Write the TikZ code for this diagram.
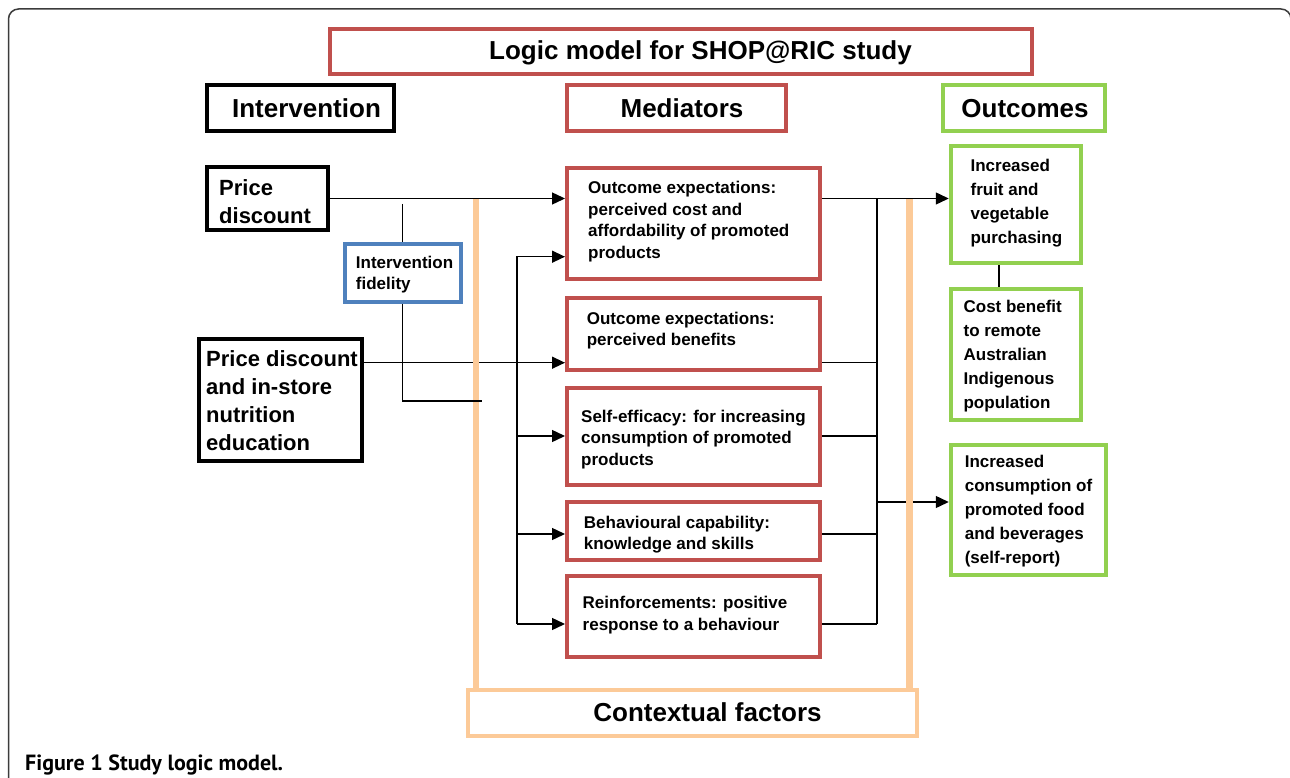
\documentclass[tikz,border=0pt]{standalone}
\usepackage{fontspec}
\setmainfont{Liberation Sans}
\newfontfamily\capfont{PT Sans}
\usetikzlibrary{arrows.meta}
\definecolor{boxred}{RGB}{192,80,77}
\definecolor{boxgreen}{RGB}{146,208,80}
\definecolor{boxblue}{RGB}{79,129,189}
\definecolor{ctxorange}{RGB}{252,202,152}
\definecolor{framegray}{RGB}{60,60,60}
\begin{document}
\begin{tikzpicture}[x=1pt,y=-1pt, font=\bfseries,
  box/.style={draw, rectangle, line width=4pt, inner sep=0pt},
  blackbox/.style={box, draw=black},
  redbox/.style={box, draw=boxred},
  greenbox/.style={box, draw=boxgreen, line width=4.5pt},
  bluebox/.style={box, draw=boxblue},
  ctxbox/.style={box, draw=ctxorange},
  head/.style={font=\fontsize{26}{30}\selectfont\bfseries, inner sep=0pt, anchor=base},
  medtxt/.style={font=\fontsize{17}{21.7}\selectfont\bfseries, align=left, anchor=west, inner sep=0pt},
  outtxt/.style={font=\fontsize{17}{24}\selectfont\bfseries, align=left, anchor=west, inner sep=0pt},
  inttxt/.style={font=\fontsize{22}{28}\selectfont\bfseries, align=left, anchor=west, inner sep=0pt},
  fidtxt/.style={font=\fontsize{17}{20.7}\selectfont\bfseries, align=left, anchor=west, inner sep=0pt},
  conn/.style={draw=black, line width=1.4pt},
  arr/.style={conn, -{Triangle[length=13pt,width=12pt]}},
  bar/.style={draw=ctxorange, line width=6.5pt},
  frame/.style={draw=framegray, line width=1.5pt, rounded corners=10pt},
]
\fill[white] (0,0) rectangle (1290,778);
\useasboundingbox (0,0) rectangle (1290,778);

\draw[frame] (8.5,800) -- (8.5,9) -- (1291,9) -- (1291,800);

% title and headings
\node[redbox, minimum width=702pt, minimum height=45pt] (title) at (681,51.5) {};
\node[head] (titletxt) at (700.5,59.3) {Logic model for SHOP@RIC study};
\node[blackbox, minimum width=187pt, minimum height=46pt] (hint) at (300.5,108) {};
\node[head] (hinttxt) at (306.5,117.3) {Intervention};
\node[redbox, minimum width=219pt, minimum height=46pt] (hmed) at (676.5,108) {};
\node[head] (hmedtxt) at (682,117.3) {Mediators};
\node[greenbox, minimum width=162pt, minimum height=46pt] (hout) at (1024,108) {};
\node[head] (houttxt) at (1025,117.3) {Outcomes};

% interventions
\node[blackbox, minimum width=121pt, minimum height=63pt] (pd) at (267.5,198.5) {};
\node[inttxt] (pdtxt) at (219,202) {Price\\discount};
\node[blackbox, minimum width=162.6pt, minimum height=122pt] (pde) at (280.3,400) {};
\node[inttxt] (pdetxt) at (206,401) {Price discount\\and in-store\\nutrition\\education};
\node[bluebox, minimum width=116.5pt, minimum height=58pt] (fid) at (402.75,273) {};
\node[fidtxt] (fidtxt) at (355.7,274.3) {Intervention\\fidelity};

% mediators
\node[redbox, minimum width=253pt, minimum height=111pt] (m1) at (693.5,223.5) {};
\node[medtxt] (m1txt) at (588,221.5) {Outcome expectations:\\perceived cost and\\affordability of promoted\\products};
\node[redbox, minimum width=253pt, minimum height=72pt] (m2) at (693.5,334) {};
\node[medtxt] (m2txt) at (586.6,330.5) {Outcome expectations:\\perceived benefits};
\node[redbox, minimum width=253pt, minimum height=97pt] (m3) at (693.5,436.5) {};
\node[medtxt] (m3txt) at (581,439.5) {Self-efficacy: for increasing\\consumption of promoted\\products};
\node[redbox, minimum width=253pt, minimum height=58pt] (m4) at (693.5,531) {};
\node[medtxt] (m4txt) at (583.7,534.5) {Behavioural capability:\\knowledge and skills};
\node[redbox, minimum width=253pt, minimum height=81pt] (m5) at (693.5,616.5) {};
\node[medtxt] (m5txt) at (582.5,615.3) {Reinforcements: positive\\response to a behaviour};

% outcomes
\node[greenbox, minimum width=130pt, minimum height=117pt] (o1) at (1016,204.5) {};
\node[outtxt] (o1txt) at (970.4,203.2) {Increased\\fruit and\\vegetable\\purchasing};
\node[greenbox, minimum width=130pt, minimum height=131pt] (o2) at (1016,354.5) {};
\node[outtxt] (o2txt) at (963.4,355.7) {Cost benefit\\to remote\\Australian\\Indigenous\\population};
\node[greenbox, minimum width=155pt, minimum height=130pt] (o3) at (1028.5,510) {};
\node[outtxt] (o3txt) at (964.6,511.5) {Increased\\consumption of\\promoted food\\and beverages\\(self-report)};

% contextual factors
\node[ctxbox, minimum width=449pt, minimum height=46pt] (ctx) at (692.5,713) {};
\node[head] (ctxtxt) at (707.5,721.7) {Contextual factors};

% helper coordinates
\coordinate (fidtop) at (402.75,204);
\coordinate (fidend) at (482,401);
\coordinate (blt) at (517,256.7);
\coordinate (blb) at (517,624);
\coordinate (brt) at (877,198.5);
\coordinate (brb) at (877,624);
\coordinate (cl) at (476,198.5);
\coordinate (cr) at (909.7,198.5);
\coordinate (o12) at (999,0);

% connectors passing beneath the contextual bars
\draw[arr] (pde.east |- 0,362.7) -- (m2.west |- 0,362.7);
\draw[arr] (brt |- 0,502) -- (o3.west |- 0,502);

% contextual bars
\draw[bar] (cl) -- (cl |- ctx.north);
\draw[bar] (cr) -- (cr |- ctx.north);

% other connectors
\draw[arr] (pd.east) -- (m1.west |- pd.east);
\draw[conn] (fidtop) -- (fid.north);
\draw[conn] (fid.south) |- (fidend);
\draw[arr] (blb) -- (blt) -- (m1.west |- blt);
\draw[arr] (blb |- 0,436) -- (m3.west |- 0,436);
\draw[arr] (blb |- 0,534) -- (m4.west |- 0,534);
\draw[arr] (blb) -- (m5.west |- blb);
\draw[arr] (m1.east |- brt) -- (o1.west |- brt);
\draw[conn] (brt) -- (brb);
\draw[conn] (m2.east |- 0,362.7) -- (brt |- 0,362.7);
\draw[conn] (m3.east |- 0,436) -- (brt |- 0,436);
\draw[conn] (m4.east |- 0,534) -- (brt |- 0,534);
\draw[conn] (m5.east |- brb) -- (brb);
\draw[conn] (o1.south -| o12) -- (o2.north -| o12);

% caption
\node[font=\capfont\fontsize{22}{26}\selectfont\bfseries, anchor=base west, inner sep=0pt] (cap) at (25,770) {Figure 1 Study logic model.};
\end{tikzpicture}
\end{document}
